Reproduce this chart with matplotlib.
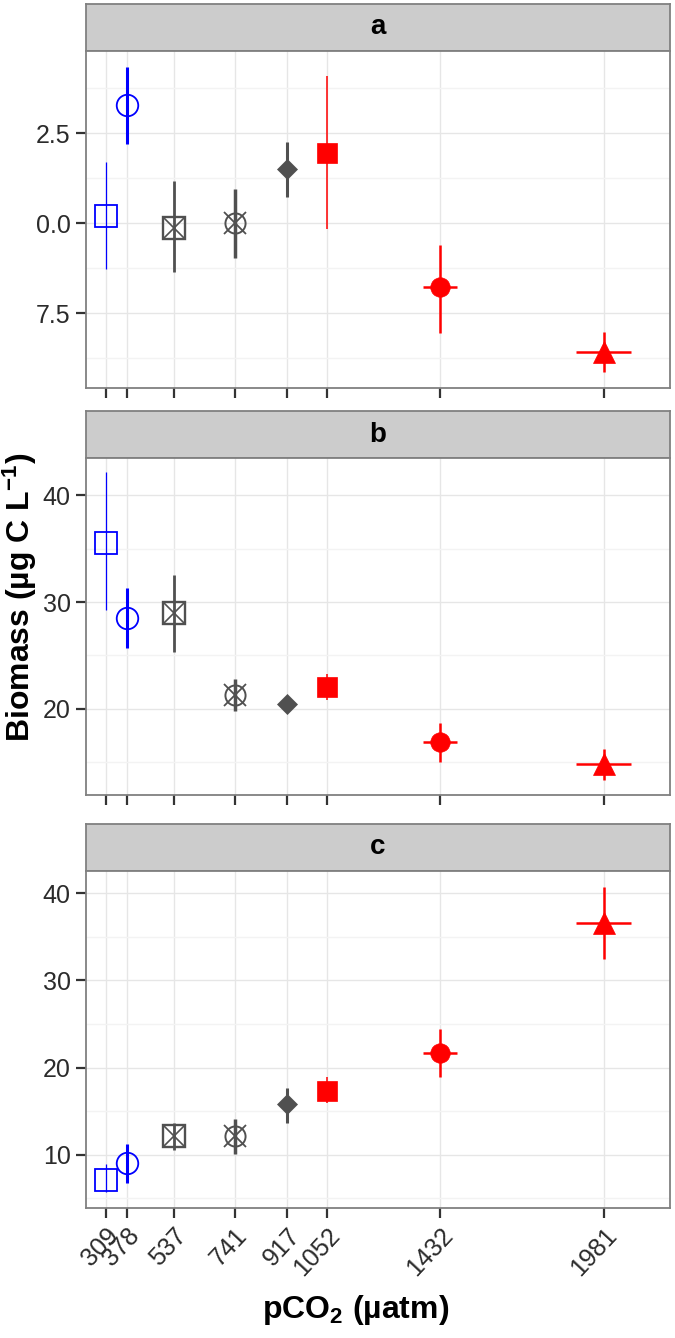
import matplotlib
matplotlib.use("Agg")
import matplotlib.pyplot as plt
import numpy as np

# ---------------- data ----------------
pco2 = [309, 378, 537, 741, 917, 1052, 1432, 1981]
pco2_labels = ["309", "378", "537", "741", "917", "1052", "1432", "1981"]
pco2_err = [0, 0, 0, 0, 0, 0, 57, 92]

a_mean = [10.19, 13.28, 9.86, 10.00, 11.50, 11.94, 8.22, 6.42]
a_lo = [8.72, 12.19, 8.64, 9.03, 10.72, 9.83, 6.94, 5.86]
a_hi = [11.69, 14.33, 11.17, 10.94, 12.25, 14.08, 9.39, 6.97]

b_mean = [35.50, 28.50, 28.97, 21.30, 20.47, 22.06, 16.90, 14.86]
b_lo = [29.25, 25.70, 25.33, 19.80, 19.90, 20.80, 15.05, 13.36]
b_hi = [42.15, 31.30, 32.50, 22.80, 21.00, 23.30, 18.70, 16.30]

c_mean = [7.07, 9.08, 12.18, 12.20, 15.80, 17.35, 21.70, 36.55]
c_lo = [5.70, 6.80, 10.50, 10.10, 13.70, 15.90, 18.90, 32.40]
c_hi = [8.97, 11.26, 13.70, 14.10, 17.70, 18.90, 24.40, 40.70]

panel_names = ["a", "b", "c"]
a_ticks = [7.5, 10.0, 12.5]
a_ticklabels = ["7.5", "0.0", "2.5"]
b_ticks = [20, 30, 40]
b_ticklabels = ["20", "30", "40"]
c_ticks = [10, 20, 30, 40]
c_ticklabels = ["10", "20", "30", "40"]
a_minor = [6.25, 8.75, 11.25, 13.75]
b_minor = [15, 25, 35]
c_minor = [5, 15, 25, 35]

ylabel = "Biomass (µg C L$^{-1}$)"
xlabel = "pCO$_2$ (µatm)"

# ---------------- styles ----------------
BLUE, GREY, RED = "#0000FF", "#505050", "#FF0000"
colors = [BLUE, BLUE, GREY, GREY, GREY, RED, RED, RED]
bar_lw = [0.9, 2.2, 2.0, 2.5, 2.2, 1.1, 1.8, 1.8]

plt.rcParams["font.family"] = ["Liberation Sans", "DejaVu Sans"]
plt.rcParams["mathtext.default"] = "regular"

W, H = 675, 1338
fig = plt.figure(figsize=(W / 100, H / 100), dpi=100)


def rect(x0, y0, x1, y1):
    return [x0 / W, 1 - y1 / H, (x1 - x0) / W, (y1 - y0) / H]


X0, X1 = 86, 670
layout = [(4, 51, 388), (411, 458, 795), (824, 871, 1208)]
ylims = [(5.42, 14.78), (11.96, 43.46), (3.9, 42.53)]
means = [a_mean, b_mean, c_mean]
los = [a_lo, b_lo, c_lo]
his = [a_hi, b_hi, c_hi]
ticks = [a_ticks, b_ticks, c_ticks]
ticklabels = [a_ticklabels, b_ticklabels, c_ticklabels]
minors = [a_minor, b_minor, c_minor]

BORDER = "#808080"


def draw_marker(ax, i, x, y):
    c = colors[i]
    if i == 0:
        ax.plot(x, y, marker="s", ms=15.5, mfc="none", mec=c, mew=1.3, zorder=5)
    elif i == 1:
        ax.plot(x, y, marker="o", ms=15.5, mfc="none", mec=c, mew=1.3, zorder=5)
    elif i == 2:
        ax.plot(x, y, marker="s", ms=15.5, mfc="none", mec=c, mew=1.7, zorder=5)
        ax.plot(x, y, marker="x", ms=14, mec=c, mew=1.2, zorder=5)
    elif i == 3:
        ax.plot(x, y, marker="o", ms=14.5, mfc="none", mec=c, mew=1.4, zorder=5)
        ax.plot(x, y, marker="x", ms=15.5, mec=c, mew=1.3, zorder=5)
    elif i == 4:
        ax.plot(x, y, marker="D", ms=10, mfc=c, mec=c, mew=0.5, zorder=5)
    elif i == 5:
        ax.plot(x, y, marker="s", ms=14.5, mfc=c, mec=c, mew=0.5, zorder=5)
    elif i == 6:
        ax.plot(x, y, marker="o", ms=14, mfc=c, mec=c, mew=0.5, zorder=5)
    elif i == 7:
        ax.plot(x, y, marker="^", ms=15.5, mfc=c, mec=c, mew=0.5, zorder=5)


for p in range(3):
    ys, yt, yb = layout[p]
    # strip
    sax = fig.add_axes(rect(X0, ys, X1, yt))
    sax.set_facecolor("#CCCCCC")
    sax.set_xticks([])
    sax.set_yticks([])
    for s in sax.spines.values():
        s.set_color(BORDER)
        s.set_linewidth(1.3)
    sax.text(0.5, 0.5, panel_names[p], ha="center", va="center",
             fontsize=20, fontweight="bold", transform=sax.transAxes)

    ax = fig.add_axes(rect(X0, yt, X1, yb))
    ax.set_xlim(242, 2203)
    ax.set_ylim(*ylims[p])
    ax.set_axisbelow(True)
    ax.set_xticks(pco2)
    ax.set_yticks(ticks[p])
    ax.set_yticklabels(ticklabels[p])
    ax.set_yticks(minors[p], minor=True)
    ax.grid(which="major", color="#E6E6E6", lw=1.0)
    ax.grid(which="minor", axis="y", color="#F3F3F3", lw=1.0)
    ax.tick_params(which="minor", length=0)
    ax.tick_params(which="major", direction="out", length=7, width=1.6,
                   color="#333333", labelsize=18, labelcolor="#2b2b2b", pad=4)
    for s in ax.spines.values():
        s.set_color(BORDER)
        s.set_linewidth(1.3)
    if p < 2:
        ax.set_xticklabels([])
    else:
        ax.set_xticklabels(pco2_labels, rotation=47, ha="right", va="top",
                           rotation_mode="anchor")

    m, lo, hi = means[p], los[p], his[p]
    for i in range(len(pco2)):
        ax.plot([pco2[i], pco2[i]], [lo[i], hi[i]], color=colors[i],
                lw=bar_lw[i], solid_capstyle="butt", zorder=3)
        if pco2_err[i] > 0:
            ax.plot([pco2[i] - pco2_err[i], pco2[i] + pco2_err[i]], [m[i], m[i]],
                    color=colors[i], lw=bar_lw[i], solid_capstyle="butt", zorder=3)
        draw_marker(ax, i, pco2[i], m[i])

fig.text(20 / W, 1 - 597 / H, ylabel, rotation=90, ha="center", va="center",
         fontsize=23, fontweight="bold")
fig.text(356 / W, 1 - 1310 / H, xlabel, ha="center", va="center",
         fontsize=23, fontweight="bold")

fig.savefig("out.png", dpi=100, facecolor="white")
